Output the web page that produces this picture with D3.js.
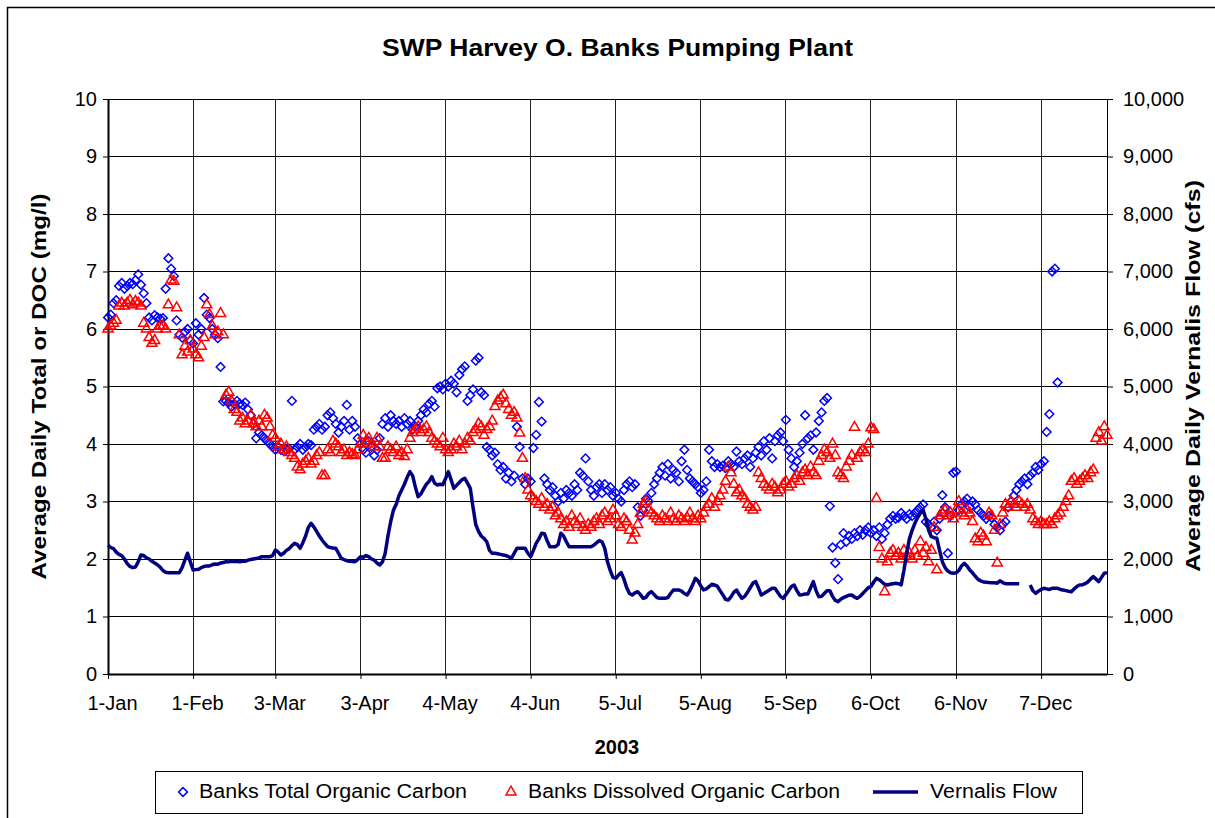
<!DOCTYPE html>
<html>
<head>
<meta charset="utf-8">
<script src="https://cdn.jsdelivr.net/npm/d3@7"></script>
<style>
  body { margin: 0; background: #fff; }
  svg { display: block; font-family: Arial, "Liberation Sans", sans-serif; }
</style>
</head>
<body>
<div id="chart"></div>
<script>

// tick dates (day of year 2003, 0 = 1-Jan)
var dateTicks = [0, 31, 61, 92, 123, 154, 185, 216, 247, 278, 309, 340];
var dateLabels = ["1-Jan", "1-Feb", "3-Mar", "3-Apr", "4-May", "4-Jun", "5-Jul", "5-Aug", "5-Sep", "6-Oct", "6-Nov", "7-Dec"];

// Banks Total Organic Carbon (mg/l), one value per day from 1-Jan
var tocValues = [
 6.2, 6.25, 6.45, 6.5, 6.75, 6.8, 6.7, 6.75, 6.8, 6.78,
 6.85, 6.95, 6.77, 6.62, 6.45, 6.2, 6.15, 6.24, 6.2, 6.18,
 6.19, 6.7, 7.23, 7.05, 6.92, 6.15, 5.9, 5.85, 5.95, 6.0,
 5.8, 5.75, 6.1, 5.9, 6.0, 6.54, 6.25, 6.19, 6.0, 5.9,
 5.84, 5.34, 4.74, 4.75, 4.72, 4.65, 4.7, 4.75, 4.7, 4.68,
 4.72, 4.6, 4.5, 4.35, 4.1, 4.2, 4.15, 4.1, 4.05, 4.0,
 3.95, 3.9, 3.95, 3.9, 3.88, 3.9, 3.92, 4.75, 3.9, 3.95,
 4.0, 3.9, 3.95, 4.0, 3.98, 4.25, 4.3, 4.35, 4.25, 4.3,
 4.5, 4.55, 4.45, 4.35, 4.2, 4.3, 4.4, 4.68, 4.25, 4.4,
 4.3, 4.1, 4.0, 3.9, 3.85, 4.05, 3.95, 3.8, 3.9, 4.1,
 4.35, 4.45, 4.3, 4.5, 4.4, 4.35, 4.4, 4.3, 4.45, 4.35,
 4.4, 4.25, 4.3, 4.4, 4.5, 4.6, 4.55, 4.7, 4.75, 4.65,
 4.97, 5.0, 4.95, 5.05, 5.0, 5.1, 5.05, 4.9, 5.2, 5.3,
 5.35, 4.75, 4.85, 4.95, 5.45, 5.5, 4.9, 4.85, 3.95, 3.9,
 3.8, 3.85, 3.65, 3.55, 3.6, 3.4, 3.5, 3.35, 3.45, 4.3,
 3.95, 3.4, 3.3, 3.4, 3.35, 3.93, 4.16, 4.73, 4.39, 3.4,
 3.3, 3.2, 3.25, 3.1, 3.0, 3.15, 3.05, 3.2, 3.15, 3.1,
 3.3, 3.2, 3.5, 3.45, 3.75, 3.35, 3.2, 3.1, 3.25, 3.3,
 3.15, 3.3, 3.2, 3.25, 3.1, 3.15, 3.05, 3.0, 3.2, 3.3,
 3.35, 3.25, 3.3, 2.9, 2.75, 2.85, 3.05, 3.0, 3.15, 3.3,
 3.4, 3.5, 3.6, 3.45, 3.65, 3.4, 3.55, 3.5, 3.35, 3.7,
 3.9, 3.55, 3.4, 3.35, 3.3, 3.25, 3.15, 3.2, 3.35, 3.9,
 3.7, 3.6, 3.65, 3.6, 3.62, 3.58, 3.7, 3.65, 3.6, 3.87,
 3.7, 3.65, 3.75, 3.8, 3.6, 3.75, 3.85, 3.95, 3.8, 4.05,
 3.9, 4.1, 3.75, 4.05, 4.15, 4.2, 4.05, 4.42, 3.9, 3.75,
 3.6, 3.7, 3.85, 4.0, 4.5, 4.1, 4.15, 3.9, 4.2, 4.4,
 4.55, 4.75, 4.8, 2.92, 2.2, 1.93, 1.65, 2.25, 2.45, 2.3,
 2.4, 2.35, 2.45, 2.4, 2.5, 2.42, 2.5, 2.55, 2.45, 2.5,
 2.4, 2.55, 2.35, 2.45, 2.6, 2.7, 2.75, 2.7, 2.72, 2.8,
 2.75, 2.7, 2.78, 2.75, 2.8, 2.85, 2.9, 2.95, 2.65, 2.6,
 2.55, 2.65, 2.5, 2.7, 3.11, 2.9, 2.1, 2.75, 3.5, 3.52,
 2.85, 2.95, 3.0, 3.05, 2.9, 3.0, 2.95, 2.85, 2.8, 2.75,
 2.7, 2.75, 2.72, 2.6, 2.55, 2.5, 2.6, 2.65, 2.9, 3.0,
 3.1, 3.2, 3.3, 3.35, 3.4, 3.3, 3.45, 3.5, 3.6, 3.55,
 3.65, 3.7, 4.21, 4.52, 7.0, 7.05, 5.07
];

// Banks Dissolved Organic Carbon (mg/l)
var docValues = [
 6.0, 6.05, 6.1, 6.15, 6.4, 6.45, 6.4, 6.45, 6.5, 6.42,
 6.48, 6.45, 6.4, 6.1, 6.0, 5.85, 5.75, 5.8, 6.0, 6.05,
 6.05, 6.0, 6.42, 6.85, 6.83, 6.37, 5.9, 5.55, 5.7, 5.6,
 5.8, 5.65, 5.55, 5.5, 5.7, 5.85, 6.42, 6.25, 6.05, 5.9,
 5.95, 6.27, 5.9, 4.85, 4.9, 4.75, 4.6, 4.55, 4.4, 4.45,
 4.35, 4.4, 4.5, 4.35, 4.3, 4.4, 4.3, 4.5, 4.45, 4.3,
 4.15, 4.1, 3.95, 4.0, 3.9, 3.95, 3.85, 3.8, 3.75, 3.6,
 3.55, 3.65, 3.7, 3.75, 3.65, 3.7, 3.8, 3.85, 3.45, 3.45,
 3.9, 3.85, 4.05, 4.0, 3.95, 3.85, 3.9, 3.8, 3.85, 3.82,
 3.8, 3.9, 4.0, 4.15, 4.05, 4.1, 4.0, 3.95, 4.1, 3.95,
 3.75, 3.75, 3.95, 3.9, 3.85, 3.95, 3.8, 3.85, 3.78, 3.9,
 4.1, 4.2, 4.25, 4.3, 4.2, 4.25, 4.3, 4.2, 4.1, 4.05,
 4.0, 3.95, 4.1, 3.9, 3.85, 3.9, 4.0, 3.95, 4.05, 3.9,
 4.0, 4.1, 4.05, 4.2, 4.25, 4.35, 4.3, 4.15, 4.25, 4.3,
 4.4, 4.65, 4.75, 4.8, 4.85, 4.7, 4.6, 4.5, 4.55, 4.45,
 4.19, 3.75, 3.4, 3.2, 3.1, 3.05, 3.0, 2.95, 3.05, 2.9,
 2.95, 2.85, 2.9, 2.75, 2.8, 2.7, 2.6, 2.65, 2.55, 2.75,
 2.65, 2.6, 2.7, 2.55, 2.5, 2.6, 2.55, 2.65, 2.7, 2.6,
 2.75, 2.8, 2.65, 2.7, 2.85, 2.75, 2.6, 2.55, 2.7, 2.65,
 2.5, 2.33, 2.45, 2.6, 2.8, 2.95, 3.0, 2.85, 2.8, 2.75,
 2.7, 2.65, 2.75, 2.7, 2.65, 2.8, 2.7, 2.65, 2.75, 2.7,
 2.65, 2.72, 2.8, 2.7, 2.65, 2.75, 2.7, 2.8, 2.9, 2.95,
 3.05, 2.9, 3.0, 3.1, 3.2, 3.35, 3.6, 3.5, 3.3, 3.15,
 3.2, 3.1, 3.05, 2.95, 2.9, 2.85, 2.9, 3.5, 3.4, 3.3,
 3.25, 3.2, 3.3, 3.25, 3.15, 3.2, 3.3, 3.35, 3.25, 3.3,
 3.4, 3.45, 3.35, 3.5, 3.55, 3.45, 3.6, 3.5, 3.45, 3.7,
 3.8, 3.9, 3.85, 3.75, 4.0, 3.8, 3.5, 3.45, 3.4, 3.6,
 3.7, 3.8, 4.29, 3.75, 3.85, 3.9, 3.85, 4.0, 4.28, 4.25,
 3.05, 2.2, 2.0, 1.43, 1.95, 2.1, 2.15, 2.05, 2.1, 2.0,
 2.15, 2.05, 2.1, 2.0, 2.15, 2.05, 2.3, 2.1, 2.2, 1.95,
 2.15, 2.55, 1.81, 2.75, 2.8, 2.85, 2.75, 2.8, 2.7, 2.85,
 3.0, 2.8, 2.75, 2.85, 2.8, 2.65, 2.35, 2.3, 2.45, 2.4,
 2.3, 2.8, 2.75, 2.5, 1.93, 2.6, 2.8, 2.95, 2.9, 3.0,
 2.95, 2.9, 3.0, 2.95, 2.9, 2.95, 2.85, 2.7, 2.65, 2.6,
 2.65, 2.6, 2.6, 2.65, 2.6, 2.7, 2.75, 2.8, 2.9, 3.0,
 3.1, 3.35, 3.4, 3.3, 3.35, 3.4, 3.45, 3.4, 3.5, 3.55,
 4.1, 4.2, 4.05, 4.3, 4.15
];

// Vernalis Flow (cfs), null = no record
var flowValues = [
 2240, 2200, 2180, 2120, 2080, 2060, 2000, 1920, 1870, 1850,
 1860, 1950, 2070, 2060, 2020, 2000, 1960, 1930, 1900, 1860,
 1800, 1770, 1760, 1760, 1760, 1760, 1762, 1850, 1980, 2100,
 1950, 1809, 1815, 1820, 1850, 1870, 1880, 1880, 1900, 1913,
 1910, 1930, 1940, 1953, 1950, 1960, 1955, 1960, 1950, 1960,
 1960, 1980, 1990, 2000, 2010, 2020, 2040, 2040, 2040, 2040,
 2060, 2157, 2120, 2070, 2100, 2150, 2180, 2230, 2273, 2250,
 2186, 2284, 2400, 2550, 2620, 2560, 2480, 2400, 2330, 2270,
 2214, 2200, 2190, 2186, 2100, 2012, 1990, 1970, 1960, 1955,
 1953, 1990, 2040, 2030, 2060, 2040, 2000, 1980, 1930, 1896,
 1950, 2100, 2400, 2650, 2850, 2950, 3100, 3200, 3300, 3420,
 3519, 3450, 3250, 3084, 3130, 3220, 3300, 3350, 3432, 3320,
 3287, 3300, 3290, 3400, 3519, 3380, 3229, 3280, 3330, 3380,
 3403, 3320, 3229, 2900, 2600, 2480, 2400, 2360, 2300, 2150,
 2099, 2100, 2090, 2080, 2070, 2060, 2040, 2012, 2100, 2186,
 2186, 2186, 2186, 2100, 2040, 2150, 2273, 2350, 2447, 2440,
 2320, 2214, 2214, 2214, 2250, 2447, 2400, 2300, 2214, 2214,
 2214, 2214, 2214, 2214, 2214, 2214, 2214, 2240, 2280, 2320,
 2300, 2186, 1950, 1800, 1680, 1664, 1720, 1762, 1650, 1500,
 1400, 1374, 1410, 1432, 1380, 1316, 1330, 1400, 1432, 1380,
 1330, 1316, 1316, 1316, 1330, 1400, 1461, 1461, 1461, 1440,
 1400, 1374, 1450, 1550, 1664, 1620, 1530, 1461, 1480, 1520,
 1560, 1548, 1530, 1450, 1380, 1300, 1287, 1340, 1420, 1461,
 1380, 1316, 1350, 1420, 1500, 1580, 1606, 1500, 1374, 1400,
 1430, 1460, 1490, 1490, 1420, 1350, 1316, 1380, 1450, 1520,
 1548, 1450, 1374, 1380, 1390, 1390, 1500, 1606, 1450, 1345,
 1350, 1400, 1450, 1450, 1350, 1280, 1258, 1300, 1330, 1350,
 1370, 1374, 1340, 1316, 1350, 1400, 1450, 1500, 1519, 1600,
 1664, 1640, 1600, 1560, 1548, 1560, 1570, 1577, 1570, 1550,
 1800, 2100, 2350, 2500, 2620, 2720, 2800, 2852, 2700, 2500,
 2388, 2370, 2360, 2150, 1953, 1850, 1790, 1760, 1751, 1760,
 1800, 1880, 1925, 1880, 1809, 1760, 1700, 1646, 1620, 1600,
 1595, 1590, 1588, 1588, 1580, 1620, 1590, 1570, 1568, 1568,
 1568, 1568, 1568, null, null, null, 1548, 1450, 1403, 1440,
 1470, 1490, 1480, 1470, 1490, 1490, 1490, 1470, 1460, 1450,
 1440, 1432, 1480, 1520, 1548, 1550, 1570, 1600, 1650, 1693,
 1650, 1606, 1680, 1751, 1760
];

var seriesNames = ["Banks Total Organic Carbon", "Banks Dissolved Organic Carbon", "Vernalis Flow"];

var width = 1215, height = 818;
var plot = {left: 108, right: 1107, top: 99, bottom: 674};

var svg = d3.select("#chart").append("svg")
	.attr("width", width)
	.attr("height", height);

svg.append("rect").attr("width", width).attr("height", height).attr("fill", "#fff");

// outer chart frame (runs off the right/bottom of the picture)
svg.append("rect")
	.attr("x", 7.5).attr("y", 7.5)
	.attr("width", 1240).attr("height", 840)
	.attr("fill", "none").attr("stroke", "#000").attr("stroke-width", 1.5);

var x = d3.scaleLinear().domain([0, 364]).range([plot.left, plot.right]);
var yL = d3.scaleLinear().domain([0, 10]).range([plot.bottom, plot.top]);
var yR = d3.scaleLinear().domain([0, 10000]).range([plot.bottom, plot.top]);

// gridlines
var grid = svg.append("g").attr("shape-rendering", "crispEdges");
grid.selectAll("line.h")
	.data(d3.range(1, 11))
	.enter().append("line")
	.attr("x1", plot.left).attr("x2", plot.right)
	.attr("y1", function(d) {return yL(d);})
	.attr("y2", function(d) {return yL(d);})
	.attr("stroke", "#000").attr("stroke-width", 1);
grid.selectAll("line.v")
	.data(dateTicks.slice(1).concat([364]))
	.enter().append("line")
	.attr("x1", function(d) {return x(d);})
	.attr("x2", function(d) {return x(d);})
	.attr("y1", plot.top).attr("y2", plot.bottom)
	.attr("stroke", "#222").attr("stroke-width", 1);

// axes
var axisFont = function(g) {
	g.selectAll("text").attr("font-size", "20px").attr("fill", "#000")
		.attr("font-family", "Arial, 'Liberation Sans', sans-serif");
	g.selectAll("line").attr("stroke", "#000");
};

var leftAxis = svg.append("g")
	.attr("transform", "translate(" + plot.left + ",0)")
	.call(d3.axisLeft(yL).tickValues(d3.range(0, 11)).tickSize(5).tickSizeOuter(0).tickPadding(6))
	.call(axisFont);
leftAxis.select(".domain").attr("stroke", "#000").attr("stroke-width", 2);

var rightAxis = svg.append("g")
	.attr("transform", "translate(" + plot.right + ",0)")
	.call(d3.axisRight(yR).tickValues(d3.range(0, 10001, 1000)).tickFormat(d3.format(","))
		.tickSize(6).tickSizeOuter(0).tickPadding(10))
	.call(axisFont);
rightAxis.select(".domain").attr("stroke", "#000").attr("stroke-width", 1);

var bottomAxis = svg.append("g")
	.attr("transform", "translate(0," + plot.bottom + ")")
	.call(d3.axisBottom(x).tickValues(dateTicks)
		.tickFormat(function(d, i) {return dateLabels[i];})
		.tickSize(5).tickSizeOuter(0).tickPadding(17))
	.call(axisFont);
bottomAxis.select(".domain").attr("stroke", "#000").attr("stroke-width", 2);
bottomAxis.selectAll("text").attr("dx", 4);

// series
var tocData = tocValues.map(function(v, i) {return {day: i, v: v};}).filter(function(d) {return d.v != null;});
var docData = docValues.map(function(v, i) {return {day: i, v: v};}).filter(function(d) {return d.v != null;});
var flowData = flowValues.map(function(v, i) {return {day: i, v: v};});

var diamond = d3.symbol().type(d3.symbolSquare).size(38);
var triangle = d3.symbol().type(d3.symbolTriangle).size(44);

svg.append("g").selectAll("path")
	.data(tocData)
	.enter().append("path")
	.attr("d", diamond)
	.attr("transform", function(d) {return "translate(" + x(d.day) + "," + yL(d.v) + ") rotate(45)";})
	.attr("fill", "none").attr("stroke", "#0000ff").attr("stroke-width", 1.5);

svg.append("g").selectAll("path")
	.data(docData)
	.enter().append("path")
	.attr("d", triangle)
	.attr("transform", function(d) {return "translate(" + x(d.day) + "," + yL(d.v) + ")";})
	.attr("fill", "none").attr("stroke", "#ff0000").attr("stroke-width", 1.5);

var flowLine = d3.line()
	.defined(function(d) {return d.v != null;})
	.x(function(d) {return x(d.day);})
	.y(function(d) {return yR(d.v);});

svg.append("path")
	.datum(flowData)
	.attr("d", flowLine)
	.attr("fill", "none").attr("stroke", "#000080").attr("stroke-width", 3.5)
	.attr("stroke-linejoin", "round");

// titles
svg.append("text")
	.attr("x", 617.5).attr("y", 56)
	.attr("text-anchor", "middle")
	.attr("font-size", "24px").attr("font-weight", "bold")
	.attr("textLength", 471).attr("lengthAdjust", "spacingAndGlyphs")
	.text("SWP Harvey O. Banks Pumping Plant");

svg.append("text")
	.attr("x", 617).attr("y", 754)
	.attr("text-anchor", "middle")
	.attr("font-size", "20px").attr("font-weight", "bold")
	.text("2003");

svg.append("text")
	.attr("transform", "translate(46,386.5) rotate(-90)")
	.attr("text-anchor", "middle")
	.attr("font-size", "20px").attr("font-weight", "bold")
	.attr("textLength", 386).attr("lengthAdjust", "spacingAndGlyphs")
	.text("Average Daily Total or DOC (mg/l)");

svg.append("text")
	.attr("transform", "translate(1200,376) rotate(-90)")
	.attr("text-anchor", "middle")
	.attr("font-size", "20px").attr("font-weight", "bold")
	.attr("textLength", 392).attr("lengthAdjust", "spacingAndGlyphs")
	.text("Average Daily Vernalis Flow (cfs)");

// legend
var legend = svg.append("g");
legend.append("rect")
	.attr("x", 155.5).attr("y", 771.5)
	.attr("width", 927).attr("height", 42)
	.attr("fill", "#fff").attr("stroke", "#000").attr("stroke-width", 1);

legend.append("path")
	.attr("d", diamond)
	.attr("transform", "translate(183,792) rotate(45)")
	.attr("fill", "none").attr("stroke", "#0000ff").attr("stroke-width", 1.5);
legend.append("path")
	.attr("d", triangle)
	.attr("transform", "translate(511,792)")
	.attr("fill", "none").attr("stroke", "#ff0000").attr("stroke-width", 1.5);
legend.append("line")
	.attr("x1", 873).attr("x2", 918).attr("y1", 792).attr("y2", 792)
	.attr("stroke", "#000080").attr("stroke-width", 3.5);

var legendText = [
	{x: 199, w: 268},
	{x: 528, w: 312},
	{x: 930, w: 127}
];
legend.selectAll("text.item")
	.data(legendText)
	.enter().append("text")
	.attr("x", function(d) {return d.x;})
	.attr("y", 798)
	.attr("font-size", "20px")
	.attr("textLength", function(d) {return d.w;})
	.attr("lengthAdjust", "spacingAndGlyphs")
	.text(function(d, i) {return seriesNames[i];});

</script>
</body>
</html>
